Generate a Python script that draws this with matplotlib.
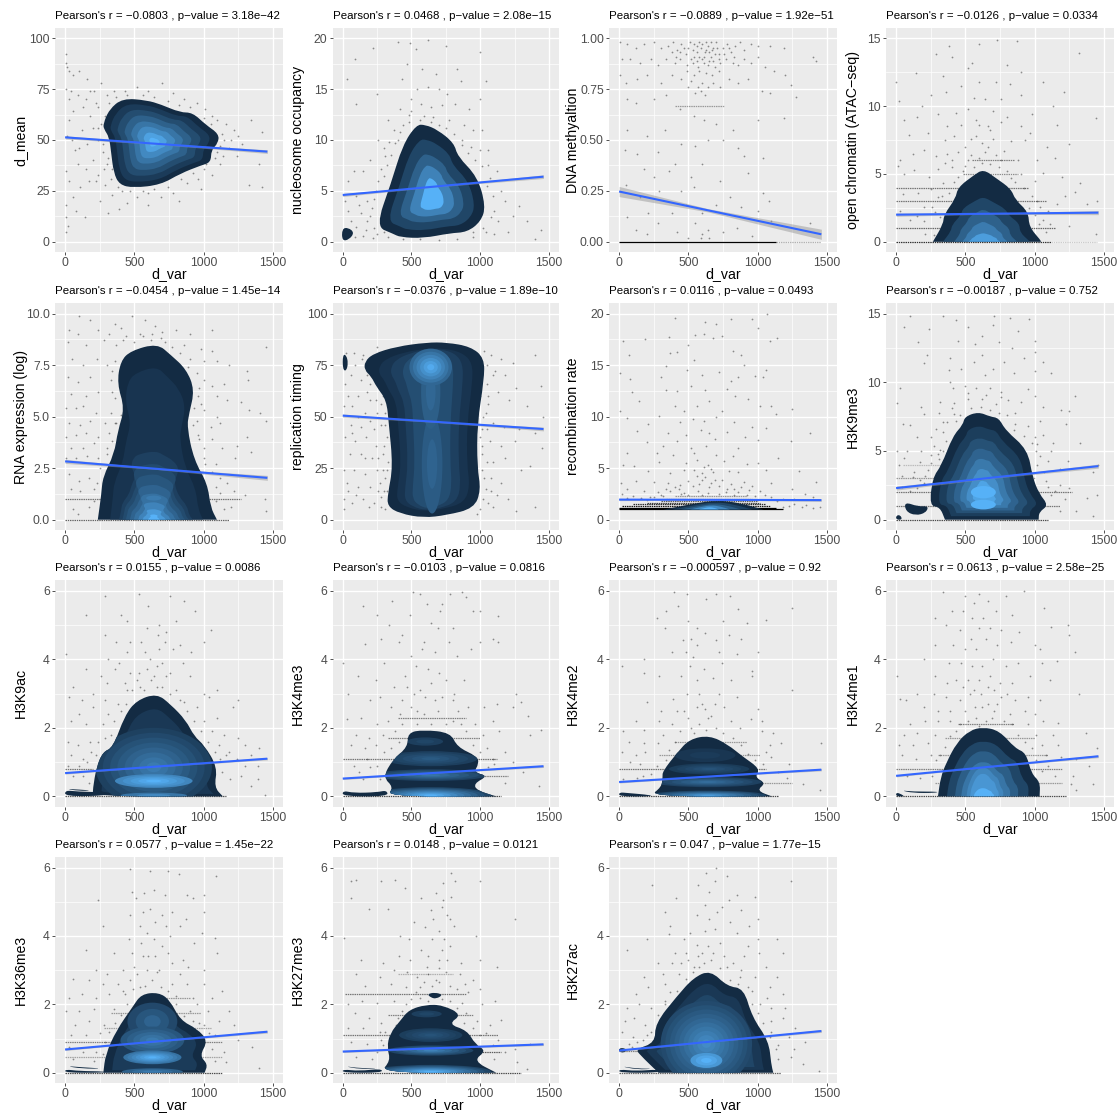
import matplotlib
matplotlib.use("Agg")
import matplotlib.pyplot as plt
from matplotlib.path import Path
from matplotlib.patches import PathPatch, Ellipse
from matplotlib.colors import to_rgb
import numpy as np

plt.rcParams['font.family'] = ['Liberation Sans', 'DejaVu Sans']
W, H = 1119, 1115
COL_L = [55, 332.7, 609, 886]
COL_R = [283, 559, 837, 1114]
ROW_T = [28, 303.3, 580, 857]
ROW_B = [252, 530, 806.7, 1083]
LAB_X = [-0.15, -0.155, -0.158, -0.145]

NAMES = ['d_mean', 'nucleosome occupancy', 'DNA methyaltion', 'open chromatin (ATAC\u2212seq)',
         'RNA expression (log)', 'replication timing', 'recombination rate', 'H3K9me3',
         'H3K9ac', 'H3K4me3', 'H3K4me2', 'H3K4me1', 'H3K36me3', 'H3K27me3', 'H3K27ac']
R_TXT = ['\u22120.0803', '0.0468', '\u22120.0889', '\u22120.0126', '\u22120.0454', '\u22120.0376', '0.0116',
         '\u22120.00187', '0.0155', '\u22120.0103', '\u22120.000597', '0.0613', '0.0577', '0.0148', '0.047']
P_TXT = ['3.18e\u221242', '2.08e\u221215', '1.92e\u221251', '0.0334', '1.45e\u221214', '1.89e\u221210', '0.0493',
         '0.752', '0.0086', '0.0816', '0.92', '2.58e\u221225', '1.45e\u221222', '0.0121', '1.77e\u221215']
LINE_Y0 = [51.3, 4.6, 0.247, 2.0, 2.83, 50.5, 1.95, 2.3, 0.68, 0.52, 0.42, 0.6, 0.68, 0.62, 0.65]
LINE_Y1 = [44.3, 6.4, 0.037, 2.15, 2.03, 44.0, 1.9, 3.9, 1.1, 0.88, 0.78, 1.17, 1.2, 0.83, 1.22]
CI_0 = [0.8, 0.15, 0.025, 0.12, 0.1, 0.8, 0.1, 0.15, 0.03, 0.03, 0.03, 0.03, 0.03, 0.03, 0.03]
CI_M = [0.3, 0.05, 0.008, 0.04, 0.03, 0.3, 0.03, 0.05, 0.01, 0.01, 0.01, 0.01, 0.01, 0.01, 0.01]
CI_1 = [0.9, 0.18, 0.025, 0.15, 0.12, 0.9, 0.12, 0.15, 0.035, 0.035, 0.035, 0.04, 0.04, 0.035, 0.04]
YTICKS = [[0, 25, 50, 75, 100], [0, 5, 10, 15, 20], [0, .25, .5, .75, 1], [0, 5, 10, 15],
          [0, 2.5, 5, 7.5, 10], [0, 25, 50, 75, 100], [0, 5, 10, 15, 20], [0, 5, 10, 15],
          [0, 2, 4, 6], [0, 2, 4, 6], [0, 2, 4, 6], [0, 2, 4, 6], [0, 2, 4, 6], [0, 2, 4, 6], [0, 2, 4, 6]]
YFMT = ['%d', '%d', '%.2f', '%d', '%.1f', '%d', '%d', '%d', '%d', '%d', '%d', '%d', '%d', '%d', '%d']
XTICKS = [0, 500, 1000, 1500]

# density outlines (d_var, value); a repeated vertex is a corner
OUT_1 = [(275,57.9),(318,65),(415,70.5),(590,69.5),(690,67.5),(831,63.5),(920,63.5),(1015,57.5),(1110,53),(1105,48.5),(1055,45),(1052,39),(980,37.5),(831,33.5),(690,28),(494,26.5),(392,28),(350,34),(332,44),(318,51.4),(280,55.4)]
OUT_2 = [(240,1.5),(350,5.7),(436,9.5),(535,11.5),(600,11.5),(690,11),(810,9.7),(835,8.4),(980,6.4),(1040,3.5),(1005,2.0),(905,.95),(780,.85),(587,.35),(418,.45),(365,.8)]
OUT_4 = [(265,0),(265,0),(340,1.3),(345,2),(430,3.2),(445,4),(560,4.9),(630,5.35),(720,4.7),(830,3.9),(860,3.1),(955,2.2),(960,1.1),(1045,.1),(1045,0),(1045,0)]
OUT_5 = [(236,0),(236,0),(262,1.26),(272,2.07),(355,3.2),(380,4.3),(430,5.4),(375,6.6),(400,7.7),(475,8.2),(665,8.55),(762,8),(875,7.3),(935,6.3),(895,5.15),(880,4.5),(930,2.9),(1028,1.75),(1050,.6),(1096,0),(1096,0)]
OUT_6 = [(160,76.7),(220,80.5),(390,84),(611,86),(756,86),(930,84),(1030,78.5),(1028,67.7),(978,46.7),(978,25.6),(1005,14.3),(955,5.5),(756,2.2),(587,.9),(415,3),(325,6.5),(328,12.6),(365,25.6),(335,46.7),(318,58),(245,64.5),(208,69.4),(158,72.6)]
OUT_7 = [(319,.97),(319,.97),(536,1.56),(705,1.9),(874,1.62),(1043,.97),(1043,.97)]
OUT_8 = [(353,0),(353,0),(316,.93),(240,1.0),(265,3.1),(325,3.9),(410,6.1),(482,6.9),(495,7.5),(594,7.85),(679,7.5),(742,7.4),(790,6.5),(950,5.1),(985,3.1),(1032,1.9),(1100,1.05),(1032,.56),(1029,0),(1029,0)]
OUT_9 = [(200,0),(200,.22),(226,.85),(273,1.3),(345,1.42),(430,2.35),(515,2.8),(662,3.0),(762,2.68),(872,2.22),(932,1.75),(1004,1.5),(1100,.85),(1076,.27),(1139,0),(1139,0)]
OUT_10 = [(320,0),(370,.27),(292,.56),(365,1.08),(473,1.44),(473,1.86),(587,1.94),(785,1.86),(832,1.44),(978,1.17),(990,.95),(952,.7),(1058,.6),(952,.37),(978,.17),(1118,0),(1118,0)]
OUT_11 = [(216,0),(306,.27),(314,.56),(314,.73),(418,1.27),(508,1.67),(653,1.78),(786,1.51),(889,1.17),(1020,.8),(978,.56),(1060,.39),(992,.17),(1103,0),(1103,0)]
OUT_12 = [(302,0),(302,0),(322,.56),(361,.97),(438,1.57),(530,1.92),(624,2.02),(745,1.92),(860,1.4),(938,1.27),(977,.66),(1040,.42),(1036,0),(1036,0)]
OUT_13 = [(276,0),(276,0),(292,.54),(370,1.24),(488,1.93),(550,2.3),(675,2.35),(755,2.13),(833,1.53),(952,1.29),(1032,.93),(970,.5),(1030,.25),(1007,0),(1007,0)]
OUT_14 = [(269,0),(348,.35),(322,.74),(343,1.15),(422,1.54),(482,1.84),(604,1.99),(726,1.98),(868,1.7),(766,1.42),(905,1.24),(964,.83),(1045,.64),(948,.35),(1117,0),(1117,0)]
OUT_15 = [(284,0),(284,0),(146,.54),(122,.69),(260,.88),(260,1.44),(418,2.24),(537,2.78),(659,3.0),(782,2.52),(900,2.47),(960,1.63),(1080,.93),(1098,.25),(1113,0),(1113,0)]
OUTLINES = [OUT_1, OUT_2, None, OUT_4, OUT_5, OUT_6, OUT_7, OUT_8, OUT_9, OUT_10, OUT_11, OUT_12, OUT_13, OUT_14, OUT_15]

# scaled copies of each outline: centre, then (x scale, y scale, shade)
CENTERS = [(640,49),(650,4.2),None,(630,0),(640,0),(640,45),(640,1.0),(630,1.6),(650,.45),(640,0),(640,0),(625,0),(630,.45),(640,0),(630,.6)]
LEVELS = [
 [(.86,.88,.12),(.72,.75,.25),(.58,.62,.4),(.45,.48,.55),(.33,.36,.7),(.2,.22,.88),(.09,.1,1)],
 [(.8,.8,.2),(.6,.6,.4),(.42,.45,.65),(.22,.28,1)],
 [],
 [(.8,.62,.2),(.58,.45,.4),(.42,.28,.6),(.3,.12,.85)],
 [(.78,.87,.07),(.62,.39,.16),(.56,.32,.24),(.5,.26,.32),(.43,.2,.42),(.36,.15,.52),(.28,.1,.66),(.2,.06,.82),(.1,.03,1)],
 [(.78,.93,.07),(.6,.92,.16),(.42,.9,.26)],
 [(.8,.8,.2),(.6,.6,.4),(.4,.45,.7),(.2,.25,1)],
 [(.84,.84,.14),(.7,.7,.28),(.56,.58,.42),(.44,.46,.58),(.32,.34,.74),(.2,.2,.9)],
 [(.86,.84,.1)],
 [], [],
 [(.8,.8,.2),(.62,.66,.38),(.48,.5,.55),(.36,.42,.68),(.28,.33,.8),(.2,.12,1)],
 [(.82,.84,.12)],
 [],
 [(.86,.86,.1),(.72,.72,.2)],
]
# soft peaks: x, y, x radius, y radius, shade from, shade to, steps
BANDS = [
 [], [], [], [], [(640,1.05,55,.12,.5,.6,1)],
 [(650,27,75,24,.3,.42,2),(640,62,70,18,.32,.45,2),(640,74,155,9,.35,.95,6)],
 [], [(630,2.0,90,.45,.9,1,1),(630,1.1,90,.35,.9,1,1)],
 [(640,.85,420,1.15,.1,.6,8),(640,.45,280,.2,.6,1,5),(640,.03,240,.08,.4,.7,2)],
 [(600,1.6,130,.12,.1,.2,2),(640,1.1,340,.22,.1,.35,5),(640,.62,420,.17,.1,.55,6),(640,.03,440,.24,.1,1,9)],
 [(620,1.2,220,.2,.05,.12,2),(650,.8,290,.16,.08,.3,5),(640,.42,390,.15,.1,.5,6),(640,.03,420,.14,.1,.85,8)],
 [],
 [(630,1.5,180,.55,.12,.42,3),(630,.95,230,.4,.25,.6,5),(630,.45,210,.2,.45,1,7),(630,.03,220,.1,.3,.6,3)],
 [(610,1.72,110,.1,.1,.2,2),(640,1.1,230,.2,.1,.3,5),(640,.65,310,.15,.1,.65,6),(640,.03,440,.2,.1,1,9)],
 [(630,.85,330,1.25,.18,.72,10),(630,.36,115,.22,.72,1,3)],
]
# separate small pieces of density: outlines in the same units
EXTRA = [
 [], [[(-5,.1),(-5,1.3),(40,1.4),(85,.9),(45,.2)]], [], [], [],
 [[(0,73),(0,80),(25,80),(40,76),(25,72)]], [],
 [[(60,1.3),(160,.95),(235,1.0),(215,.5),(140,.3),(70,.6)],[(0,0),(0,.3),(30,.35),(45,0)]],
 [[(0,0),(0,.18),(90,.14),(290,.12),(300,.02)],[(0,.22),(100,.2),(200,.17),(100,.16)]],
 [[(0,0),(0,.17),(80,.1),(250,.12),(320,.18),(330,0)]],
 [[(0,0),(0,.12),(60,.1),(230,.04),(230,0)]],
 [[(0,0),(0,.12),(40,.06),(60,0)],[(30,.18),(120,.14),(310,.14),(280,.1),(120,.1)]],
 [[(0,0),(0,.1),(100,.05),(290,.04),(290,0)],[(0,.2),(120,.16),(290,.12),(120,.12)]],
 [[(0,0),(0,.1),(120,.05),(280,.12),(290,0)],[(0,.2),(130,.13),(280,.13),(130,.1)],[(615,2.3),(670,2.35),(730,2.28),(680,2.16),(640,2.2)]],
 [[(0,0),(0,.1),(120,.05),(290,.1),(290,0)],[(0,.2),(130,.12),(260,.12),(130,.09)],[(0,.62),(0,.72),(40,.72),(55,.65),(30,.58)]],
]
# rows of dots that fall on one value: value, from, to, opacity
ROWS = [
 [], [], [(0,0,1130,1),(0,1130,1460,.3),(.667,400,760,.35)],
 [(0,0,1120,.8),(0,1120,1450,.2),(1,0,1150,.55),(3,0,1080,.5),(4,0,950,.5),(5,480,880,.45),(6,550,850,.45)],
 [(0,0,1180,.6),(1,0,1270,.5)], [],
 [(1.02,0,1180,1),(1.18,0,1130,1),(1.34,20,1090,.9),(1.5,100,1050,.8),(1.66,200,1020,.7),(1.82,300,1000,.6),(2.05,340,960,.45),(2.3,400,920,.35)],
 [(0,0,1100,.7),(1,0,1180,.5),(2,0,1270,.5),(3,0,1000,.35),(4,50,720,.2)],
 [(0,0,1160,.65),(.8,0,200,.5)],
 [(0,0,1150,.7),(.6,800,1200,.45),(1.1,0,1120,.5),(1.7,330,1000,.45),(2.3,400,900,.45)],
 [(0,0,1150,.7),(.4,950,1250,.35),(.8,0,1060,.5),(1.2,290,1020,.35),(1.6,400,920,.35)],
 [(0,0,1230,.7),(.4,280,1200,.35),(.8,0,1200,.45),(1.2,300,1100,.35),(1.7,350,1000,.35),(2.1,450,850,.45)],
 [(0,0,1130,.7),(.45,0,1130,.3),(.9,0,1130,.45),(1.3,280,1050,.3),(1.75,330,980,.35),(2.2,600,900,.35)],
 [(0,0,1300,.7),(.6,1000,1150,.6),(1.1,0,1130,.5),(1.7,330,950,.45),(2.3,20,900,.5),(2.9,400,800,.25)],
 [(0,0,1170,.6),(.65,0,170,.45)],
]

PTS_1 = [(3,92),(8,88),(15,86),(30,84),(60,82),(100,84),(160,80),(5,75),(40,74),(90,72),(150,70),(210,74),(260,78),(300,72),(350,74),(430,74),(520,76),(600,74),(700,78),(780,73),(860,70),(950,68),(1010,65),(1100,60),(1160,58),(1220,55),(1340,60),(1420,54),(1180,46),(1240,42),(1120,38),(1060,33),(960,31),(880,29),(780,24),(690,22),(600,24),(520,22),(450,19),(410,25),(340,23),(290,28),(240,33),(170,30),(110,27),(60,22),(25,30),(10,35),(4,18),(8,12),(20,8),(3,5),(75,15),(140,12),(250,20),(310,14),(390,16),(70,45),(120,55),(180,62),(240,50),(30,60),(15,52),(90,38),(200,40),(260,58),(1150,50),(1280,48),(1400,38),(1330,28),(1420,27),(980,26),(600,18),(820,20),(30,70),(130,66),(200,56),(270,44),(280,36),(50,50),(160,48),(220,68),(320,68),(1060,62),(1130,53),(1100,44),(1000,36),
 (370,71),(450,72),(560,72),(640,71),(740,69),(820,67),(900,66),(1000,61),(1050,58),(1120,47),(1080,41),(1020,38),(920,34),(840,31),(740,27),(640,26),(560,25),(470,25),(380,27),(330,31),(300,38),(270,48),(240,56),(290,62),(310,41),(220,30),(150,36),(100,46),(60,64),(180,74),(240,66),(340,36),(1140,42),(1200,50),(1250,52)]
PTS_2 = [(400,19.6),(490,19.5),(530,18.9),(620,19.8),(750,19.2),(1000,18.6),(90,18),(220,19),(30,16),(470,17.5),(580,17),(680,16.5),(830,17),(860,15.8),(1040,15.8),(430,16),(540,15),(620,15.2),(700,15),(760,14.5),(500,14),(570,13.5),(640,13.2),(720,13.4),(820,13.5),(920,13),(1000,14),(100,13.5),(250,14.5),(420,13),(480,12.5),(560,12),(660,12.3),(770,12),(880,11.5),(950,11),(1010,11),(330,12),(370,11),(440,11.5),(260,10),(300,9.2),(350,8.5),(200,8),(150,7),(80,7),(40,6),(20,4),(100,4.5),(180,4),(240,5),(300,6.5),(320,7.5),(400,10),(1060,9),(1120,7),(1150,5),(1050,5.5),(1100,3),(1130,2),(1180,4),(1280,3.5),(1340,2),(1440,1.2),(1400,.3),(1200,1),(1100,.8),(1040,1),(950,.5),(830,.3),(700,.2),(560,.3),(440,.3),(330,.5),(250,.8),(170,1.2),(100,1.5),(60,2),(200,2.5),(130,2.8),(40,3),(220,.4),(1240,2.5),(1000,9),(1060,7.5),(870,10),(930,9.3),
 (500,12.8),(590,12.4),(640,11.8),(700,11.5),(750,11.2),(810,10.6),(870,9.5),(910,8.7),(960,8),(1010,7.4),(1070,6.3),(1090,4.5),(1080,2.4),(1020,1.4),(950,1),(480,11.8),(420,10.8),(380,9.7),(340,9.8),(310,8.4),(280,7.2),(260,6),(230,4.2),(210,3.3),(180,2),(230,1.4),(300,1),(150,.6),(90,.5),(120,3.6)]
PTS_3 = [(10,.98),(60,.97),(120,.95),(180,.97),(250,.98),(300,.95),(350,.96),(390,.98),(420,.94),(450,.97),(480,.92),(510,.98),(530,.94),(560,.96),(580,.91),(600,.97),(620,.93),(640,.96),(660,.91),(680,.95),(700,.98),(720,.92),(750,.95),(780,.97),(810,.93),(840,.96),(870,.98),(900,.94),(950,.97),(1000,.96),(1090,.96),(1190,.95),(1400,.91),(1420,.89),(20,.9),(80,.9),(150,.88),(230,.9),(280,.87),(340,.9),(400,.88),(440,.9),(490,.87),(530,.88),(570,.86),(610,.88),(650,.89),(690,.86),(730,.88),(770,.9),(820,.88),(860,.87),(900,.9),(950,.88),(1000,.91),(1050,.86),(1120,.84),(1200,.82),(1240,.77),(1280,.71),(10,.82),(50,.78),(130,.8),(200,.82),(300,.78),(380,.82),(450,.8),(500,.76),(550,.73),(590,.74),(620,.72),(680,.78),(730,.76),(790,.8),(860,.78),(930,.8),(1030,.74),(1090,.73),(60,.7),(120,.68),(250,.7),(340,.72),(440,.65),(540,.62),(610,.6),(700,.58),(820,.55),(1000,.6),(1190,.61),(60,.55),(200,.52),(330,.55),(450,.48),(550,.47),(640,.5),(750,.5),(860,.46),(40,.45),(130,.43),(280,.44),(400,.38),(600,.38),(900,.42),(1040,.41),(180,.36),(360,.35),(520,.32),(730,.3),(930,.34),(250,.32),(50,.28),(150,.22),(290,.25),(450,.25),(540,.27),(800,.22),(1040,.24),(1080,.2),(1000,.15),(880,.17),(700,.18),(600,.14),(480,.18),(380,.14),(210,.14),(60,.12),(120,.06),(280,.09),(420,.05),(550,.09),(600,.04),(640,.06),(750,.05),(850,.07),(960,.03),(1100,.1),(1380,.09),(200,.04),(500,.02),(590,.02),(650,.02),
 (500,.95),(540,.91),(560,.93),(590,.95),(610,.91),(630,.94),(650,.93),(670,.94),(690,.92),(710,.95),(540,.97),(580,.98),(630,.98),(660,.98),(520,.9),(560,.89),(600,.9),(640,.87),(680,.89),(720,.9),(760,.92),(790,.95),(830,.91),(470,.95),(440,.93),(410,.91),(380,.93),(580,.84),(630,.83),(670,.82),(540,.82),(720,.84),(490,.84),(600,.78),(570,.76),(640,.76),(520,.79)]
PTS_4 = [(380,14.4),(600,14.6),(730,14.9),(870,14.8),(1320,13.9),(400,13.6),(550,13.2),(290,13.8),(520,12.8),(800,13),(900,12.5),(140,12.4),(0,11.8),(340,12.2),(470,11.5),(600,11.8),(720,11.8),(820,11.6),(1060,11.8),(1210,11),(250,10.8),(360,11),(560,10.6),(640,10.5),(760,10.5),(900,10.8),(1130,10),(20,10.4),(190,10),(430,9.5),(520,9.8),(580,9),(700,9.6),(800,9.2),(980,9.4),(1440,9.1),(60,9),(150,9.2),(300,9.4),(370,8.5),(470,8.6),(660,8.5),(760,8.8),(900,8.5),(970,8),(1160,8.6),(90,7.9),(230,8),(350,7.5),(420,7.8),(540,7.6),(620,7.3),(700,7.6),(830,7.4),(930,7.5),(1090,7),(1250,7.2),(30,6),(120,6.5),(200,6.8),(290,6.3),(370,6.5),(450,6.6),(520,6),(640,6.6),(780,6.7),(880,6),(1020,6),(1150,6.2),(1330,4.3),(15,5.6),(60,5),(130,5.3),(240,4.8),(300,5.4),(400,5.5),(450,4.8),(830,4.7),(900,5),(1000,4.5),(1060,5.1),(1200,4.8),(1290,3.7),(1450,3),(50,3.5),(160,3.6),(260,2.6),(330,3.4),(960,2.5),(1040,2.6),(1100,2.3),(1160,2.8),(1220,3.4),(1380,2.8),(30,2.3),(100,1.6),(200,1.5),(280,2.2),(1060,1.6),(1110,1.3),(1250,1.2),(1440,.6),
 (500,5.6),(560,5.5),(620,5.8),(680,5.7),(740,5.5),(800,5.2),(860,4.4),(920,4),(980,3.4),(1020,3),(1000,2),(1030,1.3),(1080,.7),(540,6.4),(600,6.2),(660,7),(720,6.4),(760,6),(580,7.8),(500,7),(680,8.2),(600,8.6),(480,5.2),(420,4.4),(380,3.6),(340,4.3),(300,3.3),(250,3.9),(200,2.6),(150,1.9),(210,.6),(270,.5),(320,1.8),(400,6),(350,5.8)]
PTS_5 = [(100,9.9),(180,9.7),(360,9.5),(480,9.9),(580,9.7),(650,9.4),(30,9.2),(90,9),(240,9.2),(320,9),(400,9.3),(440,8.9),(540,9),(700,9.1),(800,9.2),(900,9),(1060,9.2),(1450,8.4),(20,8.6),(150,8.5),(280,8.7),(370,8.5),(620,8.7),(720,8.6),(860,8.5),(980,8.3),(1060,8.2),(50,7.8),(130,7.5),(230,7.8),(300,7.5),(900,7.8),(1000,7.7),(1100,7.7),(1180,7.5),(1310,7.2),(20,6.9),(90,6.7),(180,6.9),(330,6.8),(1000,6.8),(1060,6.5),(1150,6.6),(1320,6.8),(40,6.1),(150,6),(240,6.2),(340,6.2),(960,6),(1100,6),(1170,5.8),(1270,5.7),(10,5.4),(80,5.4),(130,5.5),(220,5.2),(330,5.2),(1000,5.3),(1100,5),(1330,5.3),(1410,5.2),(30,4.7),(110,4.6),(180,4.8),(290,4.7),(370,4.7),(950,4.8),(1050,4.5),(1120,4.7),(1450,4.8),(10,4),(80,4.1),(150,4.2),(240,4),(320,4.2),(960,4.1),(1060,3.9),(1310,4),(40,3.5),(130,3.5),(210,3.7),(300,3.5),(1000,3.5),(1130,3.5),(1240,3.6),(1340,3.3),(5,3),(80,3),(160,3.1),(240,3),(1000,3),(1090,2.7),(1230,3),(30,2.2),(100,1.9),(170,2),(210,1.5),(40,1.5),(110,1.4),(1120,2),(1170,1.8),(1220,1.4),(1300,1.2),(1440,1),(1450,.4),
 (420,8.7),(500,8.6),(560,8.9),(630,9),(690,8.8),(770,8.4),(830,8.1),(890,7.4),(950,7.1),(970,6.4),(980,5.6),(930,5.4),(920,4.6),(970,3.9),(1010,2.7),(1060,2.3),(1090,1.6),(1120,1.3),(360,7.7),(340,7.2),(360,5.9),(400,5.1),(360,4.7),(340,3.8),(300,3.2),(250,2.5),(230,1.8),(210,.9),(170,.6),(60,.5),(90,.3),(1150,.5),(1200,.6),(1090,.9)]
PTS_6 = [(25,81),(80,81),(150,80),(250,84),(90,75),(140,78),(220,74),(60,70),(130,68),(200,66),(20,66),(40,60),(110,60),(180,62),(240,58),(290,60),(10,55),(70,55),(160,52),(250,52),(310,52),(60,46),(130,45),(200,48),(280,46),(320,40),(15,40),(90,38),(170,40),(240,36),(50,32),(130,32),(210,30),(290,32),(330,28),(10,24),(80,24),(160,22),(250,24),(310,20),(30,18),(110,16),(200,16),(270,18),(320,14),(10,10),(70,8),(150,10),(230,8),(280,6),(310,5),(10,5),(1030,82),(1080,80),(1150,78),(1240,76),(1400,80),(1110,72),(1180,70),(1050,66),(1130,62),(1260,64),(1440,65),(1000,60),(1060,56),(1210,58),(1340,55),(1460,50),(1020,50),(1090,47),(1170,45),(1280,44),(1400,42),(1000,40),(1070,38),(1150,36),(1250,38),(1450,35),(1010,32),(1090,28),(1180,30),(1360,26),(1300,24),(1010,24),(1080,20),(1150,18),(1040,15),(1120,12),(1200,10),(1060,8),(1000,5),(1260,4),(1400,6),
 (1050,75),(1090,70),(1060,60),(1040,52),(1010,44),(1050,44),(1010,36),(1050,28),(1030,20),(1080,14),(1020,10),(1090,6),(980,3),(300,65),(280,56),(310,46),(300,36),(320,24),(290,24),(300,14),(280,11),(260,14),(180,70),(200,58),(110,50),(230,44),(260,30),(70,42),(160,30),(40,14),(100,12),(190,6)]
PTS_7 = [(400,19.6),(620,19.2),(700,19),(810,19.5),(960,19.5),(1070,20),(30,17.3),(190,17.5),(360,17.7),(500,17),(550,17.9),(610,18),(680,17.6),(740,17.8),(1000,18.6),(1090,17.3),(1140,17.6),(70,16),(370,16.2),(420,16.3),(540,15.5),(820,16.4),(880,16),(900,15),(1060,14.5),(10,14.2),(80,13.7),(300,13.8),(340,14.9),(490,14.5),(600,14),(720,14.3),(810,13.5),(860,13.8),(980,13.9),(1040,13.8),(90,12.4),(340,12.6),(420,12.5),(520,13),(620,12.6),(780,12.7),(840,12),(930,11.7),(1100,11),(140,11.5),(290,10.1),(400,11),(470,10.5),(560,11),(650,11.5),(740,10.5),(1020,11),(1130,10.3),(1250,10.7),(10,10.5),(60,9.9),(210,9.3),(440,9.5),(530,9.8),(610,9.6),(700,10),(830,9.5),(960,9),(130,8.6),(1380,8.4),(350,8.4),(480,8.2),(590,8.7),(650,8.4),(780,8.5),(910,8),(1060,8.9),(200,7.5),(320,7.2),(420,7.6),(520,7),(630,7.2),(690,7.8),(860,7),(1000,7.7),(1240,7.6),(60,6.5),(270,6.5),(390,6.3),(540,6.5),(700,6.3),(820,6.2),(1150,6),(110,5.2),(290,5.6),(480,5.5),(560,5.8),(640,5.3),(760,5.7),(920,5.4),(1000,5.5),(30,5.3),(210,4.7),(370,4.5),(470,4.8),(600,4.5),(680,4.6),(790,4.7),(860,4.6),(1060,4.8),(1300,4.7),(15,3.6),(120,3.8),(250,3.7),(350,3.6),(440,3.4),(530,3.3),(600,3.9),(660,3.6),(720,3.3),(810,3.5),(900,3.7),(960,3.3),(1100,3.6),(1420,3.7),(60,3),(180,2.8),(280,2.7),(370,2.8),(470,2.6),(570,2.8),(640,2.6),(770,2.7),(860,2.7),(1020,2.8),(1250,3),(1340,2.5),(20,2.5),(100,2.3),(220,2.2),(320,2.3),(980,2.3),(1100,2.2),(1180,2),(1260,2),(1400,2.2),(1450,1.2),(1350,1.4),(1230,1.3),(1180,1.2),
 (430,3),(500,3.8),(560,4.2),(620,4.1),(650,3.2),(690,3.9),(740,3.9),(780,3),(830,3),(880,3.2),(940,2.9),(400,3.2),(340,3),(300,2.4),(250,2.2),(160,2.1),(540,4.8),(610,5.1),(660,4.9),(580,3.5),(500,2.4),(450,2.5),(600,2.4),(720,2.5),(830,2.4),(920,2.4),(1050,2.4),(1140,1.8),(1260,1.5),(1320,1.2),(1400,1.1),(60,2.1),(200,1.9)]
PTS_8 = [(100,14.8),(340,14.8),(430,14.5),(710,14.8),(820,14.7),(960,14.6),(60,14),(240,13.9),(520,14),(620,13.4),(700,14.2),(880,13.7),(1000,13),(160,12.9),(450,13),(570,12.8),(740,12.9),(840,12.5),(1000,12.2),(220,12),(390,11.8),(560,11.5),(620,12),(780,11.5),(920,11.8),(1060,11.5),(200,11.4),(380,10.9),(470,11),(640,10.5),(700,11),(850,10.7),(1000,10.8),(1120,10.7),(30,9.6),(390,10),(410,9.6),(500,9.7),(580,9.6),(680,9.6),(760,9.3),(950,9.5),(1290,9),(10,8.5),(180,8.2),(320,8.6),(420,8.5),(520,8.8),(620,8.8),(720,8.4),(810,8.7),(900,8.6),(1000,9),(1060,8.2),(1190,8),(1250,7.9),(50,7),(100,6.9),(200,7.7),(310,7.8),(420,7.7),(860,7),(950,6.8),(1040,7.2),(1230,7),(150,6),(250,6),(340,6.4),(1000,6),(1060,6.2),(1130,5.6),(1330,5.6),(10,5),(80,5),(180,5),(270,5.4),(340,5),(1010,5),(1120,5),(1240,4.3),(20,4),(170,4.2),(250,4.1),(310,4.4),(1020,4),(1100,4.3),(1180,3.7),(1420,3.5),(1460,4),(40,3.2),(120,3.1),(200,2.7),(1080,2.8),(1180,2.5),(1250,2.3),(40,2.4),(150,2.3),(1120,1.8),(1220,1.5),(1380,1.6),(1450,1.8),(1180,.6),(1300,.6),(1420,.3),
 (370,7.1),(430,7.2),(460,7.6),(540,8.1),(610,8.2),(680,8),(740,7.8),(800,7.6),(860,7.8),(850,6.5),(920,6.1),(980,5.6),(1020,5.5),(1040,4.6),(1070,3.5),(1100,2.4),(1150,2.1),(400,8.1),(340,7.1),(290,6.6),(360,5.7),(320,5.1),(300,4.8),(250,4.7),(230,3.6),(210,3.2),(170,2.9),(100,2.1),(130,3.5),(60,4.5),(520,9.2),(650,9.1),(760,8.9)]
PTS_9 = [(290,5.85),(530,5.9),(760,5.85),(860,5.7),(940,5.4),(150,5.3),(400,5.3),(600,5.55),(680,5),(730,4.8),(800,5.1),(1050,4.85),(450,5.1),(590,4.9),(670,4.7),(290,4.7),(370,4.5),(470,4.5),(550,4.5),(720,4.5),(830,4.4),(1000,4.5),(450,4.2),(580,4.2),(680,4.3),(780,4.3),(910,4.2),(10,4.15),(310,4),(390,3.9),(470,3.6),(610,4),(700,3.9),(850,3.9),(150,3.7),(260,3.5),(360,3.7),(530,3.6),(640,3.5),(760,3.6),(900,3.5),(60,3.2),(200,3),(300,3.3),(430,3.3),(540,3.2),(660,3.2),(800,3.1),(1000,3),(1100,3.1),(30,2.9),(120,2.8),(290,2.8),(380,2.7),(860,2.75),(950,2.6),(1040,2.9),(1250,2.8),(100,2.4),(200,2.6),(310,2.4),(1000,2.2),(1100,2.3),(1210,2.6),(40,2.2),(150,2.1),(270,2.1),(1060,1.9),(1150,1.8),(1250,1.7),(20,1.6),(90,1.5),(180,1.6),(1110,1.5),(1300,1.5),(1340,1.2),(1400,1.4),(40,1.2),(130,1.1),(190,1.3),(1160,1.2),(1240,1.1),(1300,.9),(1390,.9),(20,.9),(130,.6),(170,.4),(1130,.7),(1190,.5),(1270,.6),(1390,.5),(1440,.05),(1340,.3),
 (480,3.1),(570,3.1),(620,3.4),(700,3.2),(760,3),(830,2.8),(880,2.5),(930,2.2),(980,1.9),(1030,1.6),(1080,1.3),(1120,1.1),(1180,1.3),(440,2.7),(400,2.5),(350,2.2),(330,1.8),(290,1.7),(240,1.6),(220,1.2),(160,1),(100,.9),(60,.6),(450,3.1),(520,3.4),(590,3.7),(660,3.8),(730,3.5)]
PTS_10 = [(150,5.55),(360,5.7),(510,5.95),(560,5.9),(610,5.6),(720,5.6),(780,5.9),(870,5.95),(900,5.8),(950,5.4),(1000,5.4),(1130,5.25),(250,5.3),(340,5),(490,5.3),(640,5.05),(710,5.4),(800,4.9),(1090,4.6),(430,4.7),(590,4.5),(690,4.9),(770,4.5),(1000,4.5),(1130,4.5),(160,4.45),(280,4.6),(410,4.5),(500,4.1),(580,4.3),(670,4.2),(830,4.1),(930,4.3),(5,3.9),(110,3.5),(240,3.4),(370,3.2),(450,3.5),(530,3.8),(620,3.7),(700,3.6),(750,3.4),(880,3.4),(1260,3),(40,3),(300,3.9),(470,3.2),(560,3.1),(640,3.3),(810,3),(910,2.6),(1120,2.7),(1300,2.75),(200,2.8),(270,2.9),(350,2.6),(430,2.8),(540,2.5),(720,2.9),(800,2.8),(1030,2.6),(1240,2.6),(30,2.25),(130,2.3),(250,2.1),(330,2.2),(960,2.1),(1090,2.2),(1350,2.35),(1440,1.95),(100,1.8),(190,1.7),(290,1.8),(1020,1.8),(1140,1.9),(1360,1.8),(60,1.5),(160,1.4),(240,1.5),(1050,1.4),(1180,1.3),(80,.9),(200,.85),(1100,.95),(1240,1),(1310,.7),(1430,.3),(150,.5),(270,.5),(1180,.4),
 (430,2.1),(500,2.6),(540,2.1),(590,2.4),(640,2.1),(690,2.5),(750,2.1),(800,2.2),(860,2.1),(900,1.9),(950,1.5),(1000,1.3),(380,1.9),(410,1.6),(350,1.4),(300,1.3),(250,.9),(180,1.1),(120,.7),(600,2.9),(670,2.8),(520,3),(420,2.4),(840,2.5),(1090,1.1),(1060,.85)]
PTS_11 = [(395,5.95),(490,5.9),(630,5.75),(700,5.9),(800,5.85),(1250,5.5),(340,5.4),(425,5.55),(860,5.45),(1060,5.15),(270,5.2),(500,5.1),(560,4.9),(750,5.1),(920,5.05),(330,4.9),(560,4.4),(620,4.75),(790,4.7),(460,4.55),(520,4.6),(700,4.55),(880,4.6),(480,4.2),(530,4.05),(720,4.2),(850,4.15),(1000,4.2),(380,4.2),(180,4),(510,3.8),(610,3.7),(740,3.9),(960,3.65),(20,3.8),(180,3.6),(290,3.5),(450,3.5),(560,3.4),(680,3.45),(810,3.4),(960,3.5),(1250,3.1),(490,3),(580,3),(720,3),(850,2.9),(390,2.85),(200,2.75),(300,2.5),(420,2.5),(600,2.7),(760,2.6),(1000,2.55),(120,2.2),(290,2.2),(380,2.1),(500,2.3),(660,2.35),(810,2.2),(950,2.25),(1030,2.2),(30,1.9),(180,1.95),(320,1.8),(1030,1.9),(1110,1.85),(70,1.6),(180,1.55),(280,1.55),(1090,1.5),(1170,1.55),(1460,1.55),(20,1.3),(120,1.2),(190,1.3),(1060,1.3),(1100,1.15),(1230,.95),(80,1),(150,.95),(1150,.7),(1210,.55),(1330,.35),(1450,.2),(30,.5),(130,.55),
 (440,1.9),(520,2),(580,2.1),(630,1.95),(700,2),(750,1.85),(820,1.7),(880,1.5),(930,1.25),(980,1.05),(1040,.95),(400,1.6),(360,1.35),(340,1.05),(270,.9),(230,.65),(170,.6),(560,2.6),(620,2.55),(690,2.7),(540,1.85),(870,2),(640,2.3),(470,2.5)]
PTS_12 = [(340,5.95),(500,5.85),(560,5.65),(600,5.9),(660,5.7),(790,5.85),(920,6),(1070,5.5),(400,5.4),(480,5.4),(550,5.2),(630,5.2),(720,5.4),(840,5.3),(1120,4.95),(1240,5),(280,5.2),(360,5),(460,4.85),(540,4.6),(600,4.9),(680,4.9),(760,4.85),(890,4.8),(1000,4.4),(1250,4.7),(280,4.4),(410,4.4),(500,4.3),(580,4.3),(650,4.6),(730,4.4),(830,4.5),(1040,4.3),(1290,4.2),(200,4),(380,3.9),(470,3.9),(550,3.8),(620,3.8),(700,4),(790,3.8),(880,3.9),(1050,3.9),(1160,3.95),(280,3.5),(370,3.3),(430,3.4),(520,3.4),(600,3.4),(680,3.5),(750,3.3),(840,3.3),(970,3.5),(1110,3.4),(1320,3),(10,3.5),(30,2.85),(70,2.8),(150,3),(270,3),(360,2.9),(460,2.8),(530,3),(610,3),(660,2.7),(760,2.9),(860,2.8),(950,2.9),(1040,2.8),(200,2.6),(300,2.5),(390,2.5),(500,2.5),(570,2.6),(710,2.5),(820,2.4),(930,2.5),(1000,2.4),(100,2.1),(210,2.2),(300,2.2),(390,2.2),(950,2.1),(1060,2.2),(1170,2.15),(60,1.8),(150,1.85),(280,1.8),(1010,1.8),(1130,1.8),(1370,1.85),(20,1.5),(120,1.5),(230,1.55),(1050,1.5),(1170,1.5),(1450,1.4),(40,1.2),(140,1.1),(250,1.2),(1080,1.2),(1190,1.15),(1300,1.1),(1390,.9),(80,.6),(170,.55),(1100,.9),(1150,.6),(1280,.6),(1260,.35),(1420,.35),(1300,.2),
 (580,2.3),(620,2.6),(650,2.2),(690,2.3),(730,2.7),(780,2.2),(840,2.1),(880,1.8),(930,1.6),(980,1.4),(1010,1.05),(1050,.75),(460,2.1),(520,2.2),(430,1.9),(390,1.75),(350,1.45),(320,1.2),(290,1.05),(260,.6),(600,2.05),(660,3.2),(560,3.1),(480,3.2),(800,3),(710,3.1)]
PTS_13 = [(240,5.05),(470,5.95),(480,5.3),(610,5.9),(740,5.9),(820,5.8),(1090,5.75),(510,5.1),(570,5.25),(640,5.35),(720,5.2),(880,5.2),(920,5.1),(1000,5.2),(270,4.3),(470,4.6),(560,4.7),(610,4.8),(700,4.6),(770,4.7),(870,4.5),(1000,4.7),(540,4.3),(590,4.1),(650,4.4),(730,4.3),(830,4.3),(990,4.1),(460,3.9),(550,3.8),(640,3.9),(700,3.7),(760,4),(930,3.8),(1080,3.95),(150,3.6),(350,3.5),(480,3.5),(560,3.4),(650,3.4),(740,3.5),(850,3.3),(1100,3.5),(220,3),(300,2.9),(420,3),(500,3.1),(590,3),(680,3),(770,3.2),(890,3.1),(1000,3),(60,2.75),(170,2.7),(270,2.6),(380,2.6),(470,2.7),(540,2.5),(770,2.6),(880,2.6),(1000,2.6),(1130,2.4),(30,2.2),(120,2.3),(220,2.2),(320,2.3),(430,2.3),(800,2.25),(920,2.2),(1060,2.2),(10,1.8),(100,1.8),(210,1.85),(350,1.85),(900,1.8),(1030,1.8),(1180,1.8),(70,1.4),(170,1.5),(280,1.4),(1000,1.4),(1110,1.5),(1220,1.4),(40,1.1),(150,1.1),(250,1.15),(1080,1.1),(1250,.95),(1350,.75),(30,.75),(130,.6),(220,.6),(1060,.7),(1150,.6),(60,.4),(210,.35),(1080,.35),(1160,.3),(1400,.15),
 (490,2.45),(580,2.55),(630,2.7),(690,2.5),(740,2.4),(800,2),(860,1.65),(920,1.5),(970,1.45),(1040,1.15),(450,2),(400,1.7),(360,1.45),(320,1.2),(290,.9),(270,.55),(600,3.4),(660,2.95),(520,2.9),(830,2.9),(420,2.4),(950,2)]
PTS_14 = [(60,5.6),(100,5.65),(280,5.6),(380,5.65),(730,5.55),(790,5.85),(820,5.6),(1000,5.6),(60,5.1),(450,5.4),(570,5.1),(680,5.25),(730,5.05),(790,5.15),(190,4.8),(330,4.8),(640,4.75),(720,4.85),(760,4.6),(1250,4.5),(520,4.4),(660,4.5),(780,4.5),(600,4.25),(700,4.15),(740,3.9),(810,4.3),(970,4),(10,3.95),(420,4),(480,3.9),(570,3.6),(650,3.9),(720,3.6),(780,3.7),(1120,3.1),(130,3.3),(290,3.2),(410,3.4),(490,3.3),(620,3.4),(700,3.3),(760,3.3),(860,3.2),(1000,3.3),(100,2.9),(270,2.8),(370,3),(470,2.95),(540,2.8),(620,2.9),(680,2.7),(750,2.95),(850,2.9),(950,2.7),(160,2.55),(350,2.6),(460,2.5),(560,2.5),(650,2.55),(780,2.55),(890,2.6),(1000,2.45),(40,2),(140,2.1),(250,2.05),(370,2.1),(460,2),(870,2.05),(1010,2),(1110,2.1),(90,1.75),(190,1.6),(280,1.45),(390,1.4),(980,1.5),(1070,1.4),(1150,1.55),(40,1.3),(150,1.3),(270,1.2),(1040,1.15),(1130,.95),(60,.9),(180,.85),(290,.8),(1090,.8),(1180,.6),(1250,.7),(1360,.85),(100,.45),(210,.4),(1100,.4),(1270,.3),(1340,.1),
 (500,2.15),(560,2.2),(620,2.1),(720,2.15),(780,2.1),(830,1.9),(900,1.75),(880,1.45),(950,1.3),(1000,1.1),(430,1.8),(400,1.6),(310,1.2),(280,.95),(250,.6),(590,2.65),(700,2.65),(530,2.35),(830,2.45),(910,2.35),(610,3.1),(700,3.05)]
PTS_15 = [(700,6),(630,5.85),(780,5.75),(1240,5.6),(240,5.5),(570,5.5),(690,5.6),(850,5.2),(410,5.1),(650,5.3),(790,5.05),(980,5.15),(330,4.7),(620,4.9),(740,4.85),(880,4.75),(1000,4.5),(370,4.3),(560,4.6),(650,4.5),(710,4.7),(800,4.4),(940,4.3),(360,4.05),(510,4.1),(620,4.15),(690,4.2),(850,4.1),(1000,3.9),(1140,3.9),(200,3.9),(470,3.9),(560,3.75),(640,3.7),(730,3.8),(930,3.7),(60,3.6),(400,3.5),(480,3.5),(570,3.4),(680,3.5),(760,3.4),(900,3.4),(1010,3.5),(1180,3.5),(280,3.2),(380,3.2),(450,3.2),(540,3.1),(610,3.2),(780,3.1),(880,3),(1060,3.1),(180,2.8),(320,2.9),(430,2.9),(530,2.95),(870,2.8),(980,2.8),(1090,2.5),(1140,2.8),(120,2.3),(210,2.5),(330,2.6),(420,2.4),(960,2.4),(1070,2.2),(1180,2.3),(60,1.9),(140,2),(230,1.9),(330,2),(1020,2),(1100,1.9),(1200,1.9),(40,1.5),(110,1.6),(190,1.4),(1100,1.5),(1180,1.6),(1270,1.3),(20,1.2),(100,1.05),(200,1.1),(1100,1.2),(1230,1.05),(1340,.9),(70,.85),(1150,.8),(1260,.7),(1150,.4),(1240,.45),(1330,.25),(1440,.05),
 (480,2.75),(580,3.1),(660,3.3),(730,3.05),(800,2.7),(860,2.6),(930,2.5),(960,2),(1000,1.75),(1040,1.45),(1090,1.05),(1130,.7),(370,2.35),(330,2.1),(280,1.7),(230,1.2),(170,.95),(130,.9),(90,.75),(600,3.5),(500,3.3),(820,3.2)]
POINTS = [PTS_1, PTS_2, PTS_3, PTS_4, PTS_5, PTS_6, PTS_7, PTS_8, PTS_9, PTS_10, PTS_11, PTS_12, PTS_13, PTS_14, PTS_15]

DARK = np.array(to_rgb('#132B43'))
LIGHT = np.array(to_rgb('#56B1F7'))


def ramp(t):
    return tuple(DARK + (LIGHT - DARK) * t)


def smooth(pts):
    p = np.asarray(pts, float)
    nxt = np.roll(p, -1, axis=0)
    mid = (p + nxt) / 2
    verts = [mid[-1]]
    codes = [Path.MOVETO]
    for i in range(len(p)):
        verts += [p[i], mid[i]]
        codes += [Path.CURVE3, Path.CURVE3]
    verts.append(mid[-1])
    codes.append(Path.CLOSEPOLY)
    return Path(verts, codes)


fig = plt.figure(figsize=(W / 100, H / 100), dpi=100, facecolor='white')
for i, name in enumerate(NAMES):
    r, c = i // 4, i % 4
    l, rt, t, b = COL_L[c], COL_R[c], ROW_T[r], ROW_B[r]
    ax = fig.add_axes([l / W, 1 - b / H, (rt - l) / W, (b - t) / H], facecolor='#EBEBEB')
    yt = YTICKS[i]
    step = yt[1] - yt[0]
    ax.set_xlim(-73, 1573)
    pad_low = 0.05 * (yt[-1] - yt[0])
    ax.set_ylim(yt[0] - pad_low, yt[-1] + pad_low * (1 if r < 2 else 1.03))
    ax.set_xticks(XTICKS)
    ax.set_xticks([250, 750, 1250], minor=True)
    ax.set_yticks(yt)
    ax.set_yticklabels([YFMT[i] % v for v in yt])
    ax.set_yticks([v + step / 2 for v in yt[:-1]], minor=True)
    ax.set_axisbelow(True)
    ax.grid(which='major', color='white', lw=1.0)
    ax.grid(which='minor', color='white', lw=0.5)
    ax.tick_params(which='major', length=2.2, width=0.6, color='#333333', labelcolor='#4D4D4D',
                   labelsize=8.8, pad=1.5)
    ax.tick_params(which='minor', length=0)
    for s in ax.spines.values():
        s.set_visible(False)

    for (y, x0, x1, a) in ROWS[i]:
        ax.plot([x0, x1], [y, y], color='black', lw=0.9, alpha=a,
                ls=(0, (1.2, 0.6)) if a < 1 else '-', zorder=2, solid_capstyle='butt')
    pts = np.array(POINTS[i])
    ax.scatter(pts[:, 0], pts[:, 1], s=1.6, color='black', alpha=0.42, linewidths=0, zorder=2)

    if OUTLINES[i] is not None:
        outer = PathPatch(smooth(OUTLINES[i]), fc=ramp(0), ec='none', zorder=3)
        ax.add_patch(outer)
        cx, cy = CENTERS[i]
        o = np.array(OUTLINES[i], float)
        z = 3.1
        for (sx, sy, shade) in LEVELS[i]:
            q = np.column_stack([cx + (o[:, 0] - cx) * sx, cy + (o[:, 1] - cy) * sy])
            pa = PathPatch(smooth(q), fc=ramp(shade), ec='none', zorder=z)
            ax.add_patch(pa)
            pa.set_clip_path(outer)
            z += 0.01
        for (xc, yc, rx, ry, t0, t1, n) in BANDS[i]:
            for k in range(n):
                f = 1 - k / n
                e = Ellipse((xc, yc), 2 * rx * f, 2 * ry * f, fc=ramp(t0 + (t1 - t0) * (k + 1) / n), ec='none', zorder=z)
                ax.add_patch(e)
                e.set_clip_path(outer)
                z += 0.01
    for piece in EXTRA[i]:
        ax.add_patch(PathPatch(smooth(piece), fc=ramp(0), ec='none', zorder=3.5))

    lx = [0, 640, 1460]
    ly = [LINE_Y0[i], LINE_Y0[i] + (LINE_Y1[i] - LINE_Y0[i]) * 640 / 1460, LINE_Y1[i]]
    ci = [CI_0[i], CI_M[i], CI_1[i]]
    ax.fill_between(lx, [a - h for a, h in zip(ly, ci)], [a + h for a, h in zip(ly, ci)],
                    color='#999999', alpha=0.5, lw=0, zorder=4)
    ax.plot([0, 1460], [LINE_Y0[i], LINE_Y1[i]], color='#3366FF', lw=1.5, zorder=5, solid_capstyle='butt')

    ax.set_title("Pearson's r = %s , p\u2212value = %s" % (R_TXT[i], P_TXT[i]), loc='left', fontsize=8.25, pad=6.5, color='black')
    ax.set_xlabel('d_var', fontsize=10.2)
    ax.xaxis.set_label_coords(0.5, -0.098, transform=ax.transAxes)
    ax.xaxis.label.set_va('center')
    ax.set_ylabel(name, fontsize=10.2)
    ax.yaxis.set_label_coords(LAB_X[c], 0.5, transform=ax.transAxes)
    ax.yaxis.label.set_va('center')

fig.savefig('out.png', dpi=100)
